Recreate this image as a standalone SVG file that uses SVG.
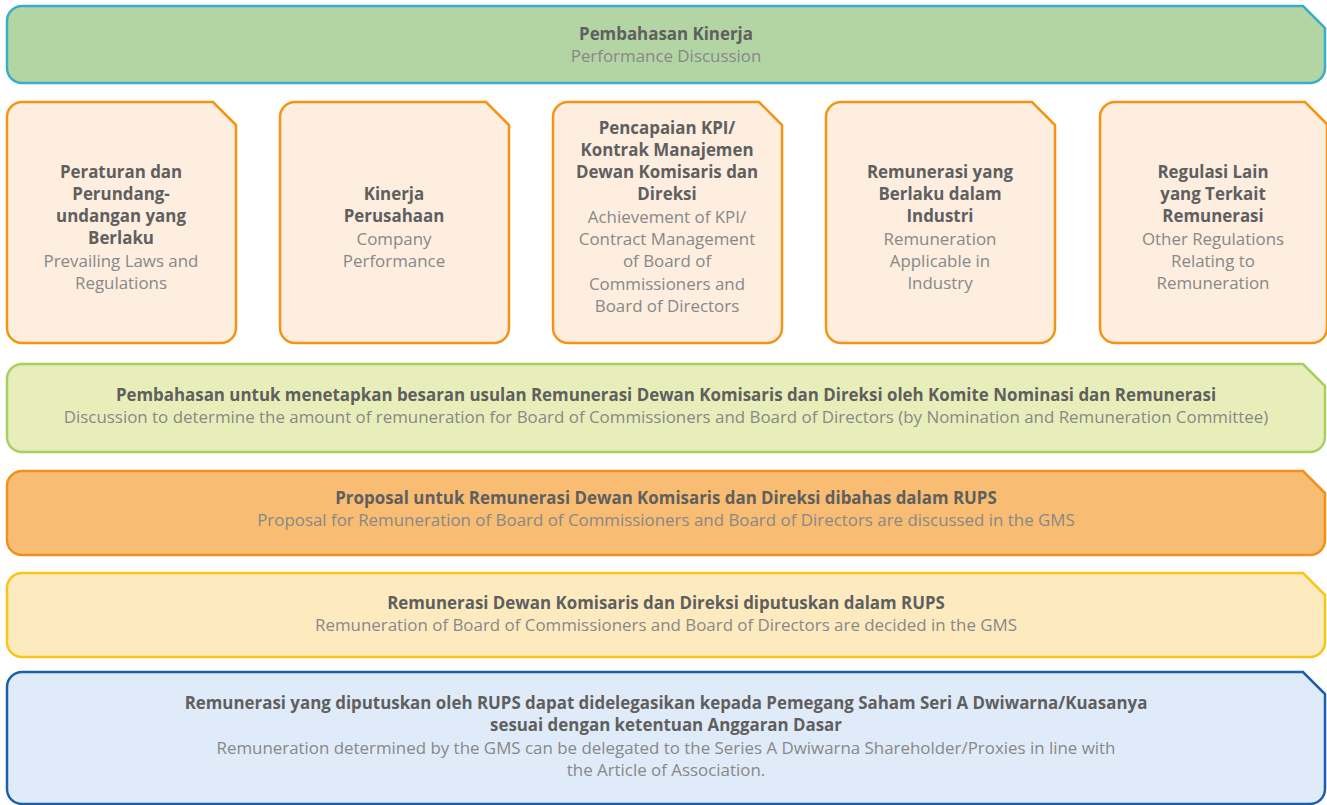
<svg xmlns="http://www.w3.org/2000/svg" width="1327" height="805" viewBox="0 0 1327 805">
<style>
text{font-family:"Open Sans",Lato,"Liberation Sans",sans-serif;font-size:16.9px;text-anchor:middle}
.b{font-weight:700;fill:#5f5f5f}
.l{font-weight:400;fill:#888888}
.s{fill:#fdeee0;stroke:#f39512;stroke-width:2.5}
</style>
<rect width="1327" height="805" fill="#fff"/>
<g id="top">
<path d="M22,6 H1303 L1325,28 V68 A15,15 0 0 1 1310,83 H22 A15,15 0 0 1 7,68 V21 A15,15 0 0 1 22,6 Z" fill="#b3d5a4" stroke="#3aaec6" stroke-width="2.5"/>
<text class="b" x="666" y="40">Pembahasan Kinerja</text>
<text class="l" x="666" y="62">Performance Discussion</text>
</g>
<g id="box1">
<path class="s" d="M22,102 H213 L236,125 V328 A15,15 0 0 1 221,343 H22 A15,15 0 0 1 7,328 V117 A15,15 0 0 1 22,102 Z"/>
<text class="b" x="121" y="178">Peraturan dan</text>
<text class="b" x="121" y="200">Perundang-</text>
<text class="b" x="121" y="222">undangan yang</text>
<text class="b" x="121" y="244">Berlaku</text>
<text class="l" x="121" y="267">Prevailing Laws and</text>
<text class="l" x="121" y="289">Regulations</text>
</g>
<g id="box2">
<path class="s" d="M295,102 H486 L509,125 V328 A15,15 0 0 1 494,343 H295 A15,15 0 0 1 280,328 V117 A15,15 0 0 1 295,102 Z"/>
<text class="b" x="394" y="200">Kinerja</text>
<text class="b" x="394" y="222">Perusahaan</text>
<text class="l" x="394" y="245">Company</text>
<text class="l" x="394" y="267">Performance</text>
</g>
<g id="box3">
<path class="s" d="M568,102 H759 L782,125 V328 A15,15 0 0 1 767,343 H568 A15,15 0 0 1 553,328 V117 A15,15 0 0 1 568,102 Z"/>
<text class="b" x="667" y="134">Pencapaian KPI/</text>
<text class="b" x="667" y="156">Kontrak Manajemen</text>
<text class="b" x="667" y="178">Dewan Komisaris dan</text>
<text class="b" x="667" y="200">Direksi</text>
<text class="l" x="667" y="223">Achievement of KPI/</text>
<text class="l" x="667" y="245">Contract Management</text>
<text class="l" x="667" y="267">of Board of</text>
<text class="l" x="667" y="290">Commissioners and</text>
<text class="l" x="667" y="312">Board of Directors</text>
</g>
<g id="box4">
<path class="s" d="M841,102 H1032 L1055,125 V328 A15,15 0 0 1 1040,343 H841 A15,15 0 0 1 826,328 V117 A15,15 0 0 1 841,102 Z"/>
<text class="b" x="940" y="178">Remunerasi yang</text>
<text class="b" x="940" y="200">Berlaku dalam</text>
<text class="b" x="940" y="222">Industri</text>
<text class="l" x="940" y="245">Remuneration</text>
<text class="l" x="940" y="267">Applicable in</text>
<text class="l" x="940" y="289">Industry</text>
</g>
<g id="box5">
<path class="s" d="M1115,102 H1305 L1327,124 V328 A15,15 0 0 1 1312,343 H1115 A15,15 0 0 1 1100,328 V117 A15,15 0 0 1 1115,102 Z"/>
<text class="b" x="1213" y="178">Regulasi Lain</text>
<text class="b" x="1213" y="200">yang Terkait</text>
<text class="b" x="1213" y="222">Remunerasi</text>
<text class="l" x="1213" y="245">Other Regulations</text>
<text class="l" x="1213" y="267">Relating to</text>
<text class="l" x="1213" y="289">Remuneration</text>
</g>
<g id="discussion">
<path d="M22,364 H1303 L1325,386 V437 A15,15 0 0 1 1310,452 H22 A15,15 0 0 1 7,437 V379 A15,15 0 0 1 22,364 Z" fill="#e8eeb9" stroke="#a8cf62" stroke-width="2.5"/>
<text class="b" x="666" y="401">Pembahasan untuk menetapkan besaran usulan Remunerasi Dewan Komisaris dan Direksi oleh Komite Nominasi dan Remunerasi</text>
<text class="l" x="666" y="423">Discussion to determine the amount of remuneration for Board of Commissioners and Board of Directors (by Nomination and Remuneration Committee)</text>
</g>
<g id="proposal">
<path d="M22,471 H1303 L1325,493 V540 A15,15 0 0 1 1310,555 H22 A15,15 0 0 1 7,540 V486 A15,15 0 0 1 22,471 Z" fill="#f8bd72" stroke="#f0921a" stroke-width="2.5"/>
<text class="b" x="666" y="504">Proposal untuk Remunerasi Dewan Komisaris dan Direksi dibahas dalam RUPS</text>
<text class="l" x="666" y="526">Proposal for Remuneration of Board of Commissioners and Board of Directors are discussed in the GMS</text>
</g>
<g id="decided">
<path d="M22,573 H1303 L1325,595 V642 A15,15 0 0 1 1310,657 H22 A15,15 0 0 1 7,642 V588 A15,15 0 0 1 22,573 Z" fill="#fdebbf" stroke="#f8c518" stroke-width="2.5"/>
<text class="b" x="666" y="609">Remunerasi Dewan Komisaris dan Direksi diputuskan dalam RUPS</text>
<text class="l" x="666" y="631">Remuneration of Board of Commissioners and Board of Directors are decided in the GMS</text>
</g>
<g id="delegated">
<path d="M22,672 H1303 L1325,694 V789 A15,15 0 0 1 1310,804 H22 A15,15 0 0 1 7,789 V687 A15,15 0 0 1 22,672 Z" fill="#dfebf8" stroke="#1c5fa9" stroke-width="2.5"/>
<text class="b" x="666" y="709">Remunerasi yang diputuskan oleh RUPS dapat didelegasikan kepada Pemegang Saham Seri A Dwiwarna/Kuasanya</text>
<text class="b" x="666" y="731">sesuai dengan ketentuan Anggaran Dasar</text>
<text class="l" x="666" y="754">Remuneration determined by the GMS can be delegated to the Series A Dwiwarna Shareholder/Proxies in line with</text>
<text class="l" x="666" y="776">the Article of Association.</text>
</g>
<g id="connectors"></g>
</svg>
